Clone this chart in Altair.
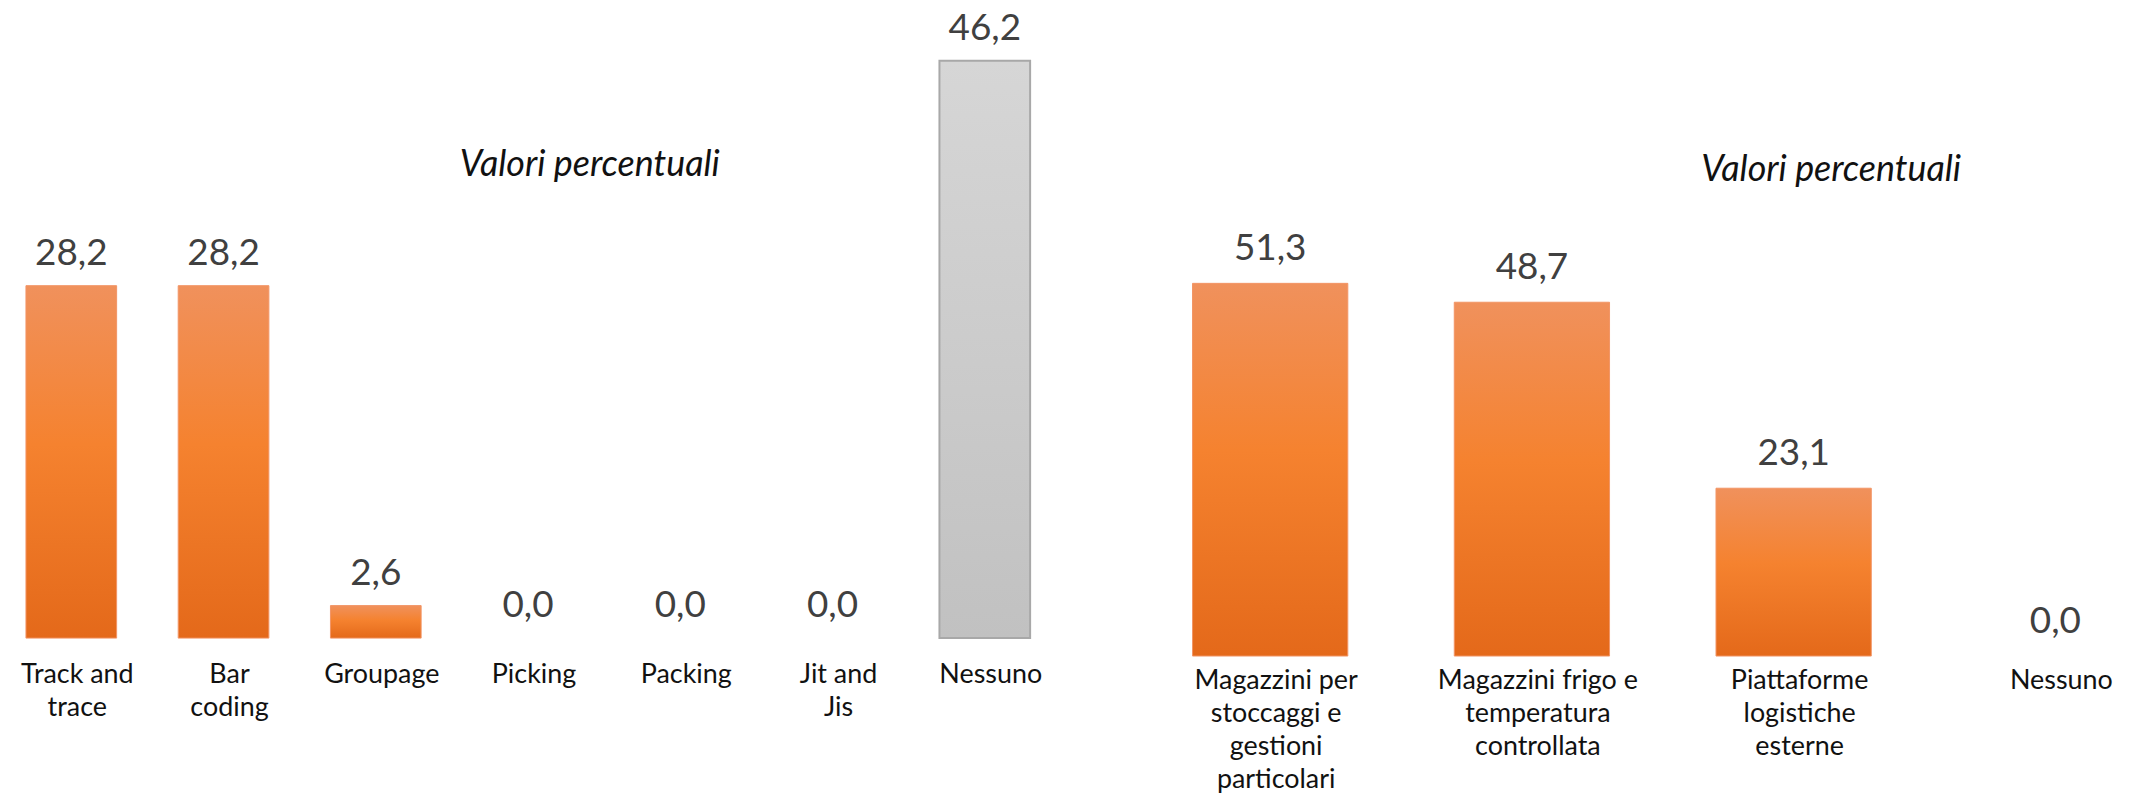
import altair as alt
import pandas as pd

# ---------------- data ----------------
left_cats = ["Track and trace", "Bar coding", "Groupage", "Picking", "Packing", "Jit and Jis", "Nessuno"]
left_labels = ["Track and\ntrace", "Bar\ncoding", "Groupage", "Picking", "Packing", "Jit and\nJis", "Nessuno"]
left_vals = [28.2, 28.2, 2.6, 0.0, 0.0, 0.0, 46.2]
left_kind = ["o", "o", "o", "o", "o", "o", "g"]

right_cats = ["Magazzini per stoccaggi e gestioni particolari",
              "Magazzini frigo e temperatura controllata",
              "Piattaforme logistiche esterne", "Nessuno"]
right_labels = ["Magazzini per\nstoccaggi e\ngestioni\nparticolari",
                "Magazzini frigo e\ntemperatura\ncontrollata",
                "Piattaforme\nlogistiche\nesterne", "Nessuno"]
right_vals = [51.3, 48.7, 23.1, 0.0]
right_kind = ["o", "o", "o", "o"]

subtitle = ["Valori percentuali"]

FONT = "Lato"


def fmt(v):
    return f"{v:.1f}".replace(".", ",")


df_left = pd.DataFrame({"cat": left_cats, "label": left_labels, "value": left_vals,
                        "kind": left_kind, "txt": [fmt(v) for v in left_vals]})
df_right = pd.DataFrame({"cat": right_cats, "label": right_labels, "value": right_vals,
                         "kind": right_kind, "txt": [fmt(v) for v in right_vals]})

orange = alt.Gradient(gradient="linear", x1=0, x2=0, y1=0, y2=1, stops=[
    alt.GradientStop(color="#F0915C", offset=0),
    alt.GradientStop(color="#F5822F", offset=0.45),
    alt.GradientStop(color="#E4691A", offset=1)])
gray = alt.Gradient(gradient="linear", x1=0, x2=0, y1=0, y2=1, stops=[
    alt.GradientStop(color="#D6D6D6", offset=0),
    alt.GradientStop(color="#C1C1C1", offset=1)])


def panel(df, cats, width, height, dmax, pi, po, label_y, dy, tx, ty):
    base = alt.Chart(df)
    x = alt.X("cat:N", sort=cats,
              scale=alt.Scale(domain=cats, paddingInner=pi, paddingOuter=po, round=False),
              axis=None)
    y = alt.Y("value:Q", scale=alt.Scale(domain=[0, dmax]), axis=None)

    bars_o = base.transform_filter("datum.value > 0 && datum.kind == 'o'").mark_bar(
        fill=orange, stroke="#F29565", strokeWidth=1).encode(x=x, y=y)
    bars_g = base.transform_filter("datum.value > 0 && datum.kind == 'g'").mark_bar(
        fill=gray, stroke="#A8A8A8", strokeWidth=2).encode(x=x, y=y)
    vals = base.mark_text(font=FONT, fontSize=37, color="#404040",
                          baseline="alphabetic", dy=dy).encode(x=x, y=y, text="txt:N")
    labs = base.mark_text(font=FONT, fontSize=27, color="#111111",
                          baseline="alphabetic", lineBreak="\n", lineHeight=33,
                          dx=6).encode(x=x, y=alt.value(label_y), text="label:N")
    title = alt.Chart(pd.DataFrame({"t": subtitle})).mark_text(
        font=FONT, fontSize=36, fontStyle="italic", color="#111111",
        baseline="alphabetic", align="center").encode(
        x=alt.value(tx), y=alt.value(ty), text="t:N")
    return alt.layer(bars_o, bars_g, vals, labs, title).properties(width=width, height=height)


left = panel(df_left, left_cats, 1044, 631, 50.3, 0.4045, 0.118, 676, -21, 584, 167)
right = panel(df_right, right_cats, 944, 649, 89.0, 0.4068, 0.0, 682, -23, 641, 172)

chart = alt.hconcat(left, right, spacing=144).properties(padding=0).configure_view(stroke=None)

chart.save("out.html", embed_options={"renderer": "svg", "actions": False})
